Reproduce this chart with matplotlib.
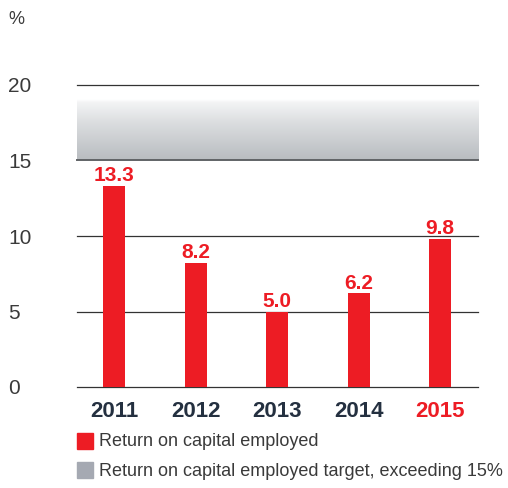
import numpy as np
import matplotlib
matplotlib.use('Agg')
import matplotlib.pyplot as plt
from matplotlib.colors import LinearSegmentedColormap
from matplotlib.patches import Rectangle

# 数据
years = ['2011', '2012', '2013', '2014', '2015']
roce = [13.3, 8.2, 5.0, 6.2, 9.8]
target = 15
y_ticks = [0, 5, 10, 15, 20]

RED = '#ed1c24'
DARK = '#243040'
GRAY = '#a5a9b2'

plt.rcParams['font.family'] = ['Liberation Sans', 'DejaVu Sans']

fig = plt.figure(figsize=(5.08, 4.88), dpi=100)
ax = fig.add_axes([77 / 508, 101 / 488, 401 / 508, 302 / 488])

x = np.arange(len(years))
xlim = (-0.454, len(years) - 1 + 0.466)

# 目标区域渐变（上方留白）
cmap = LinearSegmentedColormap.from_list(
    'band', [(0, '#b8bcc0'), (0.5, '#dcdee0'), (0.76, '#f3f4f5'), (0.8, '#ffffff'), (1, '#ffffff')])
grad = np.linspace(0, 1, 256)
ax.imshow(grad[:, None], extent=[xlim[0], xlim[1], target, 20], origin='lower',
          aspect='auto', cmap=cmap, zorder=0)

# 网格线
for t in y_ticks:
    ax.axhline(t, color='#606366' if t == target else '#333333',
               lw=1.4 if t == target else 0.9, zorder=1, clip_on=False)

ax.bar(x, roce, width=0.27, color=RED, zorder=2)
for xi, v in zip(x, roce):
    ax.text(xi, v + 0.05, f'{v:.1f}', ha='center', va='bottom', color=RED,
            fontsize=15, fontweight='bold')

ax.set_xlim(*xlim)
ax.set_ylim(0, 20)
for s in ax.spines.values():
    s.set_visible(False)

ax.set_yticks(y_ticks)
ax.set_yticklabels([str(t) for t in y_ticks], ha='left', fontsize=15, color='#3a3a3a')
ax.tick_params(axis='y', length=0, pad=49.7)

ax.set_xticks(x)
ax.set_xticklabels(years, fontsize=16, fontweight='bold', color=DARK)
ax.get_xticklabels()[-1].set_color(RED)
ax.tick_params(axis='x', length=0, pad=10)

fig.text(8 / 508, 1 - 20 / 488, '%', fontsize=13, color='#3a3a3a', va='center')

# 图例
for i, (c, label) in enumerate([(RED, 'Return on capital employed'),
                                 (GRAY, 'Return on capital employed target, exceeding 15%')]):
    yc = 441 + i * 29
    fig.patches.append(Rectangle((77 / 508, 1 - (yc + 8) / 488), 16 / 508, 16 / 488,
                                 transform=fig.transFigure, color=c))
    fig.text(99 / 508, 1 - (yc + 1) / 488, label, fontsize=13, color='#3a3a3a', va='center')

fig.savefig('out.png', dpi=100)
